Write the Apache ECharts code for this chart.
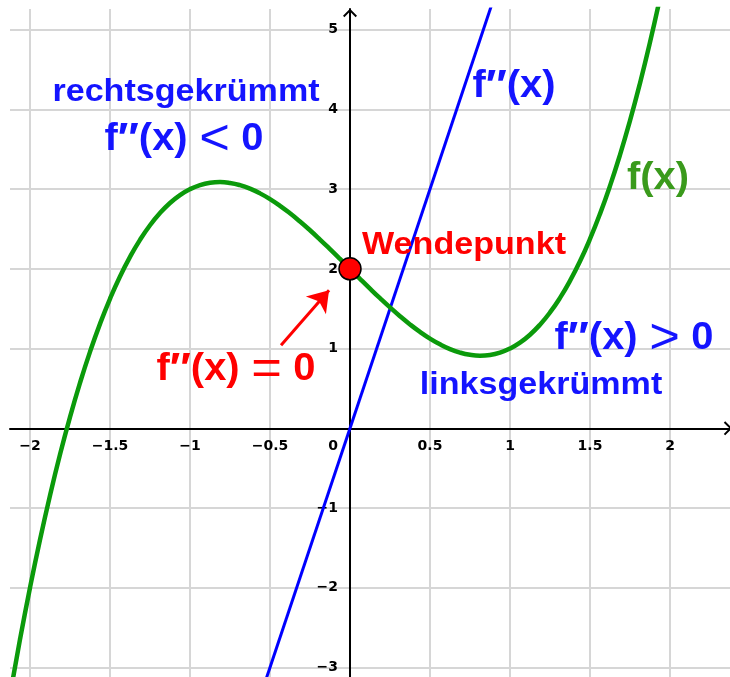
<!DOCTYPE html>
<html><head><meta charset="utf-8">
<script src="https://cdn.jsdelivr.net/npm/echarts@6/dist/echarts.min.js"></script>
<style>html,body{margin:0;padding:0;background:#fff}#c{width:730px;height:677px}</style>
</head><body><div id="c"></div>
<script>
// ---- data ----
const xTicks = [-2, -1.5, -1, -0.5, 0, 0.5, 1, 1.5, 2];
const yTicks = [-3, -2, -1, 0, 1, 2, 3, 4, 5];
const yLabelTicks = [-3, -2, -1, 1, 2, 3, 4, 5];
const fX = [-2.125,-2.0625,-2,-1.9375,-1.875,-1.8125,-1.75,-1.6875,-1.625,-1.5625,-1.5,-1.4375,-1.375,-1.3125,-1.25,-1.1875,-1.125,-1.0625,-1,-0.9375,-0.875,-0.8125,-0.75,-0.6875,-0.625,-0.5625,-0.5,-0.4375,-0.375,-0.3125,-0.25,-0.1875,-0.125,-0.0625,0,0.0625,0.125,0.1875,0.25,0.3125,0.375,0.4375,0.5,0.5625,0.625,0.6875,0.75,0.8125,0.875,0.9375,1,1.0625,1.125,1.1875,1.25,1.3125,1.375,1.4375,1.5,1.5625,1.625,1.6875,1.75,1.8125,1.875,1.9375,2];
const fY = [-3.346,-2.649,-2,-1.398,-0.842,-0.329,0.141,0.570,0.959,1.310,1.625,1.905,2.150,2.364,2.547,2.700,2.826,2.926,3,3.051,3.080,3.089,3.078,3.050,3.006,2.947,2.875,2.791,2.697,2.594,2.484,2.368,2.248,2.125,2,1.875,1.752,1.632,1.516,1.406,1.303,1.209,1.125,1.053,0.994,0.950,0.922,0.911,0.920,0.949,1,1.074,1.174,1.300,1.453,1.636,1.850,2.095,2.375,2.690,3.041,3.430,3.859,4.329,4.842,5.398,6];
const f2X = [-0.6, 0.9];
const f2Y = [-3.6, 5.4];
const inflX = [0];
const inflY = [2];

const FONT = '"Liberation Sans", Arial, Helvetica, sans-serif';
const TICK_FONT = '"DejaVu Sans", "Liberation Sans", sans-serif';
const BLUE = '#1414ff', RED = '#ff0000', GREEN = '#0b9a0b', GREEN_T = '#3a9a1c';
const fmt = v => (v < 0 ? '\u2212' : '') + Math.abs(v);
const zip = (a, b) => a.map((v, i) => [v, b[i]]);
const chevron = 'path://M7,0L14,7L12.6,8.4L7,2.8L1.4,8.4L0,7Z';

// plot window
const X_MIN = -2.125, X_MAX = 2.375, Y_MIN = -3.12, Y_MAX = 5.26;
const G_LEFT = 10, G_TOP = 9, W = 730, H = 677;
const plotW = W - G_LEFT, plotH = H - G_TOP;
// shift the axes from the grid edges onto the zero lines
const yAxisShift = -((0 - X_MIN) / (X_MAX - X_MIN) * plotW);
const xAxisShift = -((0 - Y_MIN) / (Y_MAX - Y_MIN) * plotH);

const chart = echarts.init(document.getElementById('c'), null, {renderer: 'canvas'});

function txt(x, y, text, color, size, rich, sx) {
  const st = {
    text: text, x: 0, y: 0, align: 'center', textAlign: 'center',
    verticalAlign: 'middle', textVerticalAlign: 'middle',
    fill: color, fontFamily: FONT, fontSize: size, fontWeight: 'bold'
  };
  if (rich) st.rich = rich;
  return {type: 'text', x: x, y: y, scaleX: sx || 1.1, z: 100, silent: true, style: st};
}
function mathRich(color) {
  return {
    b: {fill: color, color: color, fontFamily: FONT, fontSize: 38, fontWeight: 'bold'},
    p: {fill: color, color: color, fontFamily: FONT, fontSize: 42, fontWeight: 'bold'},
    s: {fill: color, color: color, fontFamily: FONT, fontSize: 50, fontWeight: 'normal', padding: [0, 11, 0, 11]}
  };
}

chart.setOption({
  animation: false,
  grid: {left: G_LEFT, right: 0, top: G_TOP, bottom: 0, outerBoundsMode: 'none', containLabel: false},
  xAxis: {
    type: 'value', min: X_MIN, max: X_MAX, position: 'bottom', offset: xAxisShift,
    axisLine: {onZero: false, lineStyle: {color: '#000', width: 2},
      symbol: ['none', chevron], symbolSize: [14, 8.4], symbolOffset: [0, -2]},
    axisTick: {show: false, customValues: xTicks},
    splitLine: {show: true, lineStyle: {color: '#d6d6d6', width: 2}},
    axisLabel: {
      show: true, customValues: xTicks, margin: 11,
      color: '#000', fontFamily: TICK_FONT, fontSize: 14, fontWeight: 'bold',
      formatter: v => v === 0 ? '{z|0}' : fmt(v),
      rich: {z: {padding: [0, 34, 0, 0], color: '#000', fontFamily: TICK_FONT, fontSize: 14, fontWeight: 'bold'}}
    }
  },
  yAxis: {
    type: 'value', min: Y_MIN, max: Y_MAX, position: 'left', offset: yAxisShift,
    axisLine: {onZero: false, lineStyle: {color: '#000', width: 2},
      symbol: ['none', chevron], symbolSize: [14, 8.4], symbolOffset: [0, -4]},
    axisTick: {show: false, customValues: yTicks},
    splitLine: {show: true, lineStyle: {color: '#d6d6d6', width: 2}},
    axisLabel: {
      show: true, customValues: yLabelTicks, margin: 12, padding: [3, 0, 0, 0],
      color: '#000', fontFamily: TICK_FONT, fontSize: 14, fontWeight: 'bold',
      formatter: fmt
    }
  },
  series: [
    {
      type: 'line', name: "f''(x)", data: zip(f2X, f2Y), showSymbol: false, z: 3,
      lineStyle: {color: '#0000ff', width: 3}, clip: true
    },
    {
      type: 'line', name: 'f(x)', data: zip(fX, fY), showSymbol: false, smooth: true, z: 4,
      lineStyle: {color: GREEN, width: 4.5}, clip: true
    },
    {
      type: 'scatter', name: 'Wendepunkt', data: zip(inflX, inflY), z: 6,
      symbolSize: 22,
      itemStyle: {color: RED, borderColor: '#000', borderWidth: 1.5, opacity: 1},
      markLine: {
        silent: true, symbol: ['none', 'arrow'], symbolSize: 20,
        lineStyle: {color: RED, width: 3, type: 'solid'}, label: {show: false},
        data: [[{coord: [-0.431, 1.041]}, {coord: [-0.131, 1.731]}]]
      }
    }
  ],
  graphic: {elements: [
    txt(186, 92, 'rechtsgekrümmt', BLUE, 31),
    txt(184, 140, '{b|f}{p|\u2033}{b|(x)}{s|<}{b|0}', BLUE, 38, mathRich(BLUE), 1.05),
    txt(514, 87, '{b|f}{p|\u2033}{b|(x)}', BLUE, 38, mathRich(BLUE), 1.05),
    txt(658, 179, '{b|f(x)}', GREEN_T, 38, mathRich(GREEN_T), 1.05),
    txt(464, 245, 'Wendepunkt', RED, 31),
    txt(236, 370, '{b|f}{p|\u2033}{b|(x)}{s|=}{b|0}', RED, 38, mathRich(RED), 1.05),
    txt(634, 339, '{b|f}{p|\u2033}{b|(x)}{s|>}{b|0}', BLUE, 38, mathRich(BLUE), 1.05),
    txt(541, 385, 'linksgekrümmt', BLUE, 31)
  ]}
});
</script>
</body></html>
